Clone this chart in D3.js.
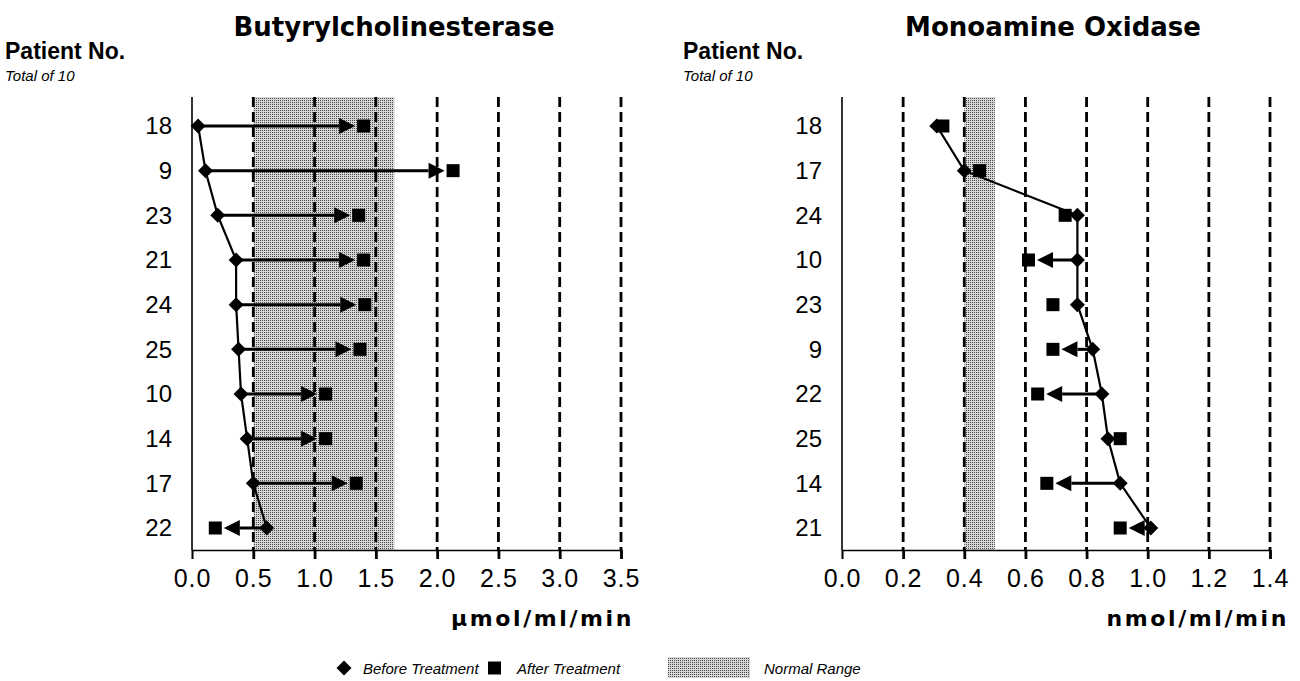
<!DOCTYPE html>
<html>
<head>
<meta charset="utf-8">
<script src="https://cdn.jsdelivr.net/npm/d3@7"></script>
<style>
  html, body { margin: 0; padding: 0; background: #fff; }
  svg { display: block; }
</style>
</head>
<body>
<svg id="chart" width="1300" height="681"></svg>
<script>
// Butyrylcholinesterase (µmol/ml/min), patients listed top to bottom
const bchePatients = ["18", "9", "23", "21", "24", "25", "10", "14", "17", "22"];
const bcheBefore   = [0.05, 0.11, 0.21, 0.36, 0.36, 0.38, 0.40, 0.45, 0.50, 0.61];
const bcheAfter    = [1.40, 2.13, 1.36, 1.40, 1.41, 1.37, 1.09, 1.09, 1.34, 0.19];
const bcheArrow    = [true, true, true, true, true, true, true, true, true, true];
const bcheTicks    = [0.0, 0.5, 1.0, 1.5, 2.0, 2.5, 3.0, 3.5];
const bcheNormal   = [0.5, 1.65];

// Monoamine oxidase (nmol/ml/min)
const maoPatients = ["18", "17", "24", "10", "23", "9", "22", "25", "14", "21"];
const maoBefore   = [0.31, 0.40, 0.77, 0.77, 0.77, 0.82, 0.85, 0.87, 0.91, 1.01];
const maoAfter    = [0.33, 0.45, 0.73, 0.61, 0.69, 0.69, 0.64, 0.91, 0.67, 0.91];
const maoArrow    = [false, false, false, true, false, true, true, false, true, true];
const maoTicks    = [0.0, 0.2, 0.4, 0.6, 0.8, 1.0, 1.2, 1.4];
const maoNormal   = [0.4, 0.5];

const legendLabels = ["Before Treatment", "After Treatment", "Normal Range"];

const svg = d3.select("#chart");
const SANS = "'Liberation Sans', Arial, sans-serif";
const TITLE_FONT = "'DejaVu Sans', Verdana, sans-serif";

// stippled grey fill used for the normal range band
const defs = svg.append("defs");
const pat = defs.append("pattern")
  .attr("id", "stipple").attr("patternUnits", "userSpaceOnUse")
  .attr("width", 2).attr("height", 2);
pat.append("rect").attr("width", 2).attr("height", 2).attr("fill", "#d6d6d6");
pat.append("rect").attr("width", 1).attr("height", 1).attr("fill", "#4a4a4a");

const plotTop = 97, plotBottom = 550;
const rowRange = [126, 528];

function diamondPath(cx, cy, r) {
  return `M${cx},${cy - r}L${cx + r},${cy}L${cx},${cy + r}L${cx - r},${cy}Z`;
}

function drawPanel(opt) {
  const g = svg.append("g");
  const x = d3.scaleLinear().domain(opt.domain).range(opt.range);
  const y = d3.scalePoint().domain(opt.patients).range(rowRange);

  // normal range band
  g.append("rect")
    .attr("x", x(opt.normal[0])).attr("y", plotTop)
    .attr("width", x(opt.normal[1]) - x(opt.normal[0]))
    .attr("height", plotBottom - plotTop)
    .attr("fill", "url(#stipple)");

  // dashed vertical gridlines
  g.selectAll("line.grid").data(opt.ticks.filter(t => t > 0)).join("line")
    .attr("class", "grid")
    .attr("x1", d => x(d)).attr("x2", d => x(d))
    .attr("y1", plotTop).attr("y2", plotBottom)
    .attr("stroke", "#000").attr("stroke-width", 2.8)
    .attr("stroke-dasharray", "10,5");

  // x axis
  const xAxis = d3.axisBottom(x).tickValues(opt.ticks)
    .tickFormat(d3.format(".1f")).tickSize(9).tickPadding(10);
  const ax = g.append("g").attr("transform", `translate(0,${plotBottom})`).call(xAxis);
  ax.select(".domain").attr("stroke", "#000").attr("stroke-width", 1.6);
  ax.selectAll(".tick line").attr("stroke", "#000")
    .attr("stroke-width", d => d === 0 ? 1.6 : 2.8);
  ax.selectAll(".tick text")
    .attr("font-family", SANS).attr("font-size", 25)
    .attr("letter-spacing", 1).attr("fill", "#000");

  // y axis line and patient labels
  g.append("line")
    .attr("x1", x(0)).attr("x2", x(0)).attr("y1", plotTop).attr("y2", plotBottom)
    .attr("stroke", "#000").attr("stroke-width", 1.6);
  const yAxis = d3.axisLeft(y).tickSize(0).tickPadding(20);
  const ay = g.append("g").attr("transform", `translate(${x(0)},0)`).call(yAxis);
  ay.select(".domain").remove();
  ay.selectAll(".tick text")
    .attr("font-family", SANS).attr("font-size", 24).attr("fill", "#000");

  const rows = opt.patients.map((p, i) => ({
    p, before: opt.before[i], after: opt.after[i], arrow: opt.arrow[i]
  }));

  // line joining the pre-treatment values
  g.append("path")
    .datum(rows)
    .attr("d", d3.line().x(d => x(d.before)).y(d => y(d.p)))
    .attr("fill", "none").attr("stroke", "#000").attr("stroke-width", 2.2);

  // change arrows from before to after
  const sq = 6.5, headLen = 16, headHalf = 8, gap = 2;
  rows.filter(d => d.arrow).forEach(d => {
    const x0 = x(d.before), x1 = x(d.after), cy = y(d.p);
    const dir = Math.sign(x1 - x0);
    const tip = x1 - dir * (sq + gap);
    const base = tip - dir * headLen;
    g.append("line")
      .attr("x1", x0).attr("x2", base).attr("y1", cy).attr("y2", cy)
      .attr("stroke", "#000").attr("stroke-width", 3);
    g.append("path")
      .attr("d", `M${tip},${cy}L${base},${cy - headHalf}L${base},${cy + headHalf}Z`)
      .attr("fill", "#000");
  });

  // before treatment markers
  g.selectAll("path.before").data(rows).join("path")
    .attr("class", "before")
    .attr("d", d => diamondPath(x(d.before), y(d.p), 7.5))
    .attr("fill", "#000");

  // after treatment markers
  g.selectAll("rect.after").data(rows).join("rect")
    .attr("class", "after")
    .attr("x", d => x(d.after) - sq).attr("y", d => y(d.p) - sq)
    .attr("width", sq * 2).attr("height", sq * 2)
    .attr("fill", "#000");

  // titles and labels
  svg.append("text")
    .attr("x", opt.titleX).attr("y", 36)
    .attr("text-anchor", "middle")
    .attr("font-family", TITLE_FONT).attr("font-weight", "bold")
    .attr("font-size", 26)
    .text(opt.title);

  svg.append("text")
    .attr("x", opt.headX).attr("y", 59)
    .attr("font-family", SANS).attr("font-weight", "bold").attr("font-size", 23)
    .text("Patient No.");
  svg.append("text")
    .attr("x", opt.headX).attr("y", 81)
    .attr("font-family", SANS).attr("font-style", "italic").attr("font-size", 15)
    .text("Total of 10");

  svg.append("text")
    .attr("x", opt.unitX).attr("y", 626)
    .attr("text-anchor", "end")
    .attr("font-family", TITLE_FONT).attr("font-weight", "bold")
    .attr("font-size", 22).attr("letter-spacing", 2.6)
    .text(opt.unit);
}

drawPanel({
  patients: bchePatients, before: bcheBefore, after: bcheAfter, arrow: bcheArrow,
  ticks: bcheTicks, normal: bcheNormal,
  domain: [0, 3.5], range: [192, 621],
  title: "Butyrylcholinesterase", titleX: 394, headX: 5,
  unit: "\u00b5mol/ml/min", unitX: 634
});

drawPanel({
  patients: maoPatients, before: maoBefore, after: maoAfter, arrow: maoArrow,
  ticks: maoTicks, normal: maoNormal,
  domain: [0, 1.4], range: [842, 1270],
  title: "Monoamine Oxidase", titleX: 1053, headX: 683,
  unit: "nmol/ml/min", unitX: 1289
});

// legend
const lg = svg.append("g");
const ly = 668;
const legendFont = 15;
lg.append("path").attr("d", diamondPath(344, ly, 7.5)).attr("fill", "#000");
lg.append("text").attr("x", 363).attr("y", ly + 6)
  .attr("font-family", SANS).attr("font-style", "italic").attr("font-size", legendFont)
  .text(legendLabels[0]);
lg.append("rect").attr("x", 488).attr("y", ly - 6.5).attr("width", 13).attr("height", 13)
  .attr("fill", "#000");
lg.append("text").attr("x", 517).attr("y", ly + 6)
  .attr("font-family", SANS).attr("font-style", "italic").attr("font-size", legendFont)
  .text(legendLabels[1]);
lg.append("rect").attr("x", 668).attr("y", ly - 11).attr("width", 82).attr("height", 21)
  .attr("fill", "url(#stipple)");
lg.append("text").attr("x", 764).attr("y", ly + 6)
  .attr("font-family", SANS).attr("font-style", "italic").attr("font-size", legendFont)
  .text(legendLabels[2]);
</script>
</body>
</html>
